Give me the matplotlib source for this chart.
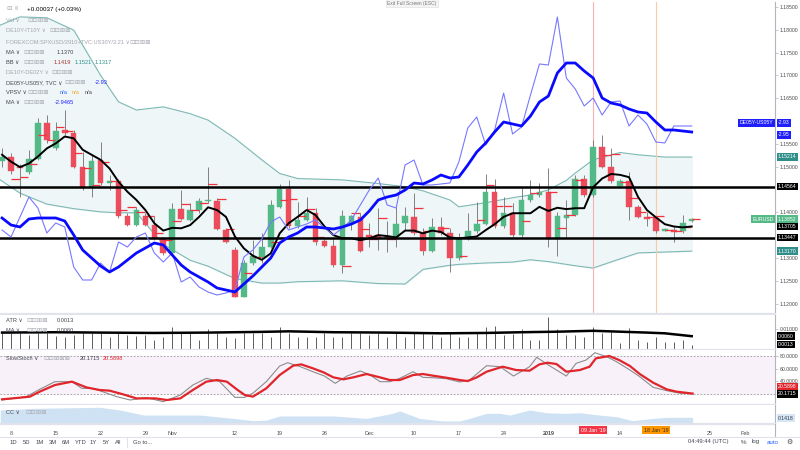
import numpy as np
import matplotlib
matplotlib.use("Agg")
import matplotlib.pyplot as plt
import matplotlib.transforms as mtransforms

# EURUSD daily bars, index 0 = 8 Oct 2018 (holidays skipped), last = 24 Jan 2019
bars = list(range(-1, 77))
opens = [1.1512, 1.1522, 1.1500, 1.1489, 1.1517, 1.1595, 1.1540, 1.1580, 1.1574, 1.1500,
         1.1455, 1.1515, 1.1464, 1.1469, 1.1391, 1.1372, 1.1391, 1.1372, 1.1341, 1.1310,
         1.1407, 1.1383, 1.1405, 1.1425, 1.1425, 1.1361, 1.1318, 1.1215, 1.1288, 1.1303,
         1.1325, 1.1412, 1.1451, 1.1369, 1.1383, 1.1398, 1.1338, 1.1326, 1.1285, 1.1374,
         1.1390, 1.1350, 1.1350, 1.1345, 1.1345, 1.1376, 1.1389, 1.1354, 1.1316, 1.1367,
         1.1354, 1.1301, 1.1343, 1.1360, 1.1374, 1.1445, 1.1369, 1.1398, 1.1350, 1.1427,
         1.1438, 1.1445, 1.1341, 1.1388, 1.1394, 1.1473, 1.1439, 1.1542, 1.1500, 1.1458,
         1.1469, 1.1411, 1.1390, 1.1387, 1.1359, 1.1361, 1.1359, 1.1380]
highs = [1.1540, 1.1529, 1.1505, 1.1537, 1.1606, 1.1613, 1.1598, 1.1624, 1.1580, 1.1533,
         1.1525, 1.1555, 1.1482, 1.1474, 1.1398, 1.1412, 1.1398, 1.1391, 1.1347, 1.1420,
         1.1449, 1.1420, 1.1431, 1.1500, 1.1431, 1.1365, 1.1325, 1.1296, 1.1339, 1.1354,
         1.1427, 1.1463, 1.1471, 1.1423, 1.1434, 1.1409, 1.1343, 1.1343, 1.1405, 1.1394,
         1.1398, 1.1376, 1.1409, 1.1380, 1.1412, 1.1412, 1.1442, 1.1365, 1.1387, 1.1390,
         1.1365, 1.1354, 1.1398, 1.1423, 1.1485, 1.1474, 1.1434, 1.1420, 1.1453, 1.1471,
         1.1464, 1.1496, 1.1401, 1.1427, 1.1482, 1.1482, 1.1558, 1.1569, 1.1540, 1.1474,
         1.1489, 1.1416, 1.1401, 1.1390, 1.1365, 1.1369, 1.1394, 1.1387]
lows = [1.1500, 1.1485, 1.1433, 1.1485, 1.1514, 1.1551, 1.1536, 1.1569, 1.1498, 1.1449,
        1.1434, 1.1460, 1.1449, 1.1387, 1.1369, 1.1369, 1.1369, 1.1339, 1.1307, 1.1307,
        1.1383, 1.1380, 1.1398, 1.1420, 1.1361, 1.1332, 1.1214, 1.1214, 1.1284, 1.1290,
        1.1321, 1.1409, 1.1365, 1.1365, 1.1380, 1.1328, 1.1325, 1.1281, 1.1266, 1.1361,
        1.1314, 1.1325, 1.1317, 1.1314, 1.1325, 1.1358, 1.1350, 1.1306, 1.1314, 1.1350,
        1.1270, 1.1296, 1.1339, 1.1354, 1.1372, 1.1365, 1.1365, 1.1347, 1.1347, 1.1423,
        1.1434, 1.1325, 1.1304, 1.1347, 1.1391, 1.1434, 1.1434, 1.1496, 1.1464, 1.1455,
        1.1383, 1.1387, 1.1369, 1.1354, 1.1358, 1.1336, 1.1355, 1.1379]
closes = [1.1522, 1.1491, 1.1496, 1.1517, 1.1595, 1.1558, 1.1579, 1.1574, 1.1500, 1.1453,
          1.1513, 1.1464, 1.1468, 1.1391, 1.1372, 1.1404, 1.1372, 1.1343, 1.1310, 1.1407,
          1.1385, 1.1405, 1.1425, 1.1427, 1.1363, 1.1336, 1.1215, 1.1288, 1.1305, 1.1325,
          1.1416, 1.1451, 1.1369, 1.1383, 1.1398, 1.1334, 1.1326, 1.1285, 1.1391, 1.1391,
          1.1316, 1.1347, 1.1343, 1.1343, 1.1374, 1.1392, 1.1354, 1.1316, 1.1367, 1.1354,
          1.1301, 1.1343, 1.1360, 1.1374, 1.1445, 1.1369, 1.1398, 1.1350, 1.1427, 1.1439,
          1.1445, 1.1341, 1.1392, 1.1394, 1.1473, 1.1439, 1.1542, 1.1500, 1.1469, 1.1469,
          1.1412, 1.1390, 1.1385, 1.1360, 1.1363, 1.1357, 1.1377, 1.1385]

# small red VPSV marks (None where none is visible)
vpsv = [None, 1.1472, 1.1478, 1.1505, 1.1569, 1.1558, 1.1587, 1.1577, 1.1529, 1.1496,
        1.1460, 1.1511, 1.1469, 1.1405, 1.1412, 1.1400, 1.1392, 1.1355, 1.1340, 1.1380,
        1.1418, 1.1405, 1.1420, 1.1462, 1.1429, 1.1363, None, 1.1268, 1.1303, None,
        1.1334, 1.1427, 1.1429, 1.1391, 1.1407, 1.1345, 1.1343, None, 1.1283, 1.1398,
        1.1363, 1.1341, 1.1387, 1.1341, None, None, 1.1409, 1.1360, None, 1.1365,
        None, 1.1304, None, 1.1383, 1.1460, 1.1414, 1.1414, None, 1.1382, 1.1443,
        None, 1.1445, 1.1365, 1.1394, 1.1471, None, None, 1.1526, 1.1528, 1.1467,
        1.1431, 1.1401, 1.1389, 1.1392, 1.1361, 1.1360, 1.1368, 1.1385]

# black MA on price
ma_price = [1.1526, 1.1511, 1.1499, 1.1507, 1.1522, 1.1540, 1.1551, 1.1566, 1.1562, 1.1537,
            1.1526, 1.1515, 1.1496, 1.1467, 1.1445, 1.1427, 1.1405, 1.1376, 1.1360, 1.1366,
            1.1365, 1.1372, 1.1390, 1.1411, 1.1405, 1.1390, 1.1347, 1.1321, 1.1305, 1.1296,
            1.1310, 1.1354, 1.1376, 1.1390, 1.1405, 1.1394, 1.1369, 1.1350, 1.1343, 1.1343,
            1.1339, 1.1343, 1.1350, 1.1348, 1.1345, 1.1360, 1.1360, 1.1354, 1.1360, 1.1357,
            1.1345, 1.1343, 1.1345, 1.1347, 1.1361, 1.1374, 1.1390, 1.1398, 1.1398, 1.1398,
            1.1412, 1.1403, 1.1410, 1.1407, 1.1409, 1.1409, 1.1455, 1.1474, 1.1484, 1.1482,
            1.1477, 1.1434, 1.1405, 1.1389, 1.1374, 1.1369, 1.1367, 1.1369]

# Bollinger bands
bb_x = [-1.2, 1, 4, 7, 10, 12, 14, 17, 20, 22, 25, 28, 30, 32, 37, 41, 44, 46, 49, 50,
        53, 56, 58, 60, 62, 63, 65, 68, 70, 73, 76]
bb_upper = [1.1810, 1.1828, 1.1826, 1.1799, 1.1700, 1.1642, 1.1624, 1.1631, 1.1616, 1.1602,
            1.1562, 1.1515, 1.1485, 1.1474, 1.1471, 1.1463, 1.1456, 1.1447, 1.1427, 1.1412,
            1.1421, 1.1432, 1.1438, 1.1449, 1.1470, 1.1486, 1.1515, 1.1531, 1.1526, 1.1521,
            1.1521]
bb_lower = [1.1471, 1.1442, 1.1418, 1.1408, 1.1401, 1.1399, 1.1399, 1.1330, 1.1295, 1.1282,
            1.1255, 1.1245, 1.1245, 1.1248, 1.1250, 1.1244, 1.1243, 1.1275, 1.1284, 1.1286,
            1.1289, 1.1291, 1.1296, 1.1292, 1.1286, 1.1283, 1.1278, 1.1298, 1.1311, 1.1313,
            1.1315]

# DE05Y-US05Y spread (thin) and its MA (thick)
spread = [-3.142, -3.156, -3.116, -3.076, -3.098, -3.148, -3.128, -3.136, -3.216, -3.242,
          -3.242, -3.208, -3.226, -3.166, -3.176, -3.156, -3.148, -3.188, -3.206, -3.188,
          -3.246, -3.236, -3.256, -3.266, -3.272, -3.268, -3.262, -3.196, -3.182, -3.160,
          -3.126, -3.116, -3.142, -3.136, -3.130, -3.122, -3.138, -3.152, -3.138, -3.122,
          -3.092, -3.062, -3.038, -3.092, -3.098, -3.012, -3.002, -3.052, -3.052, -3.050,
          -3.048, -3.006, -2.938, -2.916, -2.972, -2.942, -2.868, -2.950, -2.936, -2.872,
          -2.810, -2.812, -2.716, -2.838, -2.860, -2.894, -2.878, -2.912, -2.886, -2.884,
          -2.934, -2.912, -2.930, -2.966, -2.968, -2.934, -2.934, -2.934]
spread_ma = [-3.118, -3.132, -3.136, -3.120, -3.118, -3.118, -3.118, -3.124, -3.152, -3.182,
             -3.198, -3.214, -3.226, -3.216, -3.202, -3.188, -3.178, -3.168, -3.172, -3.192,
             -3.212, -3.226, -3.236, -3.246, -3.258, -3.262, -3.266, -3.250, -3.234, -3.216,
             -3.198, -3.168, -3.156, -3.148, -3.136, -3.136, -3.138, -3.140, -3.136, -3.130,
             -3.122, -3.104, -3.082, -3.076, -3.072, -3.062, -3.048, -3.050, -3.042, -3.032,
             -3.038, -3.036, -3.012, -2.986, -2.968, -2.946, -2.926, -2.930, -2.934, -2.914,
             -2.886, -2.874, -2.828, -2.808, -2.808, -2.824, -2.838, -2.878, -2.888, -2.892,
             -2.900, -2.906, -2.908, -2.926, -2.942, -2.942, -2.944, -2.946]

# ATR panel
atr = [0.0076, 0.0076, 0.0076, 0.0067, 0.0076, 0.0076, 0.0061, 0.0054, 0.0067, 0.0076,
       0.0076, 0.0080, 0.0054, 0.0076, 0.0067, 0.0061, 0.0067, 0.0039, 0.0054, 0.0113,
       0.0076, 0.0076, 0.0039, 0.0100, 0.0076, 0.0054, 0.0048, 0.0076, 0.0080, 0.0076,
       0.0054, 0.0113, 0.0076, 0.0054, 0.0054, 0.0057, 0.0080, 0.0054, 0.0054, 0.0076,
       0.0076, 0.0067, 0.0076, 0.0057, 0.0076, 0.0057, 0.0085, 0.0085, 0.0067, 0.0057,
       0.0085, 0.0054, 0.0057, 0.0076, 0.0113, 0.0117, 0.0067, 0.0072, 0.0098, 0.0039,
       0.0039, 0.0169, 0.0098, 0.0067, 0.0067, 0.0054, 0.0113, 0.0076, 0.0082, 0.0024,
       0.0103, 0.0039, 0.0030, 0.0054, 0.0030, 0.0030, 0.0039, 0.0013]
atr_ma_x = [-1, 5, 10, 16, 22, 28, 31, 36, 42, 48, 53, 57, 61, 65, 68, 71, 73, 76]
atr_ma = [0.0080, 0.0082, 0.0080, 0.0078, 0.0080, 0.0084, 0.0087, 0.0082, 0.0080, 0.0076,
          0.0078, 0.0082, 0.0085, 0.0090, 0.0085, 0.0080, 0.0076, 0.0060]

# Slow stochastic
stoch_d_x = [-1.0, 1.0, 2.1, 3.2, 4.9, 6.8, 8.4, 9.9, 11.0, 12.5, 14.0, 16.1, 17.4, 18.9,
             20.3, 21.8, 23.0, 24.1, 25.2, 26.1, 27.0, 28.5, 30.0, 31.5, 32.4, 33.7, 34.9,
             36.0, 37.1, 38.2, 39.7, 41.2, 42.3, 43.4, 44.9, 46.0, 47.1, 48.6, 50.1, 51.0,
             52.0, 53.1, 54.9, 56.4, 57.9, 59.0, 59.9, 60.9, 62.0, 63.5, 64.6, 65.3, 66.8,
             67.9, 69.1, 70.2, 71.7, 73.2, 74.3, 76.1]
stoch_d = [11.5, 14.1, 15.7, 23.6, 34.1, 39.4, 30.4, 26.2, 25.2, 19.4, 13.0, 13.0, 10.4, 13.0,
           26.2, 39.4, 42.0, 39.4, 27.3, 18.3, 15.7, 28.8, 49.9, 64.7, 66.8, 60.5, 54.1,
           46.2, 43.1, 46.2, 51.5, 46.2, 42.0, 42.0, 49.9, 51.5, 48.9, 45.7, 42.0, 40.4,
           46.2, 55.2, 63.1, 57.8, 56.8, 66.8, 69.4, 67.3, 55.2, 57.8, 63.1, 76.3, 80.0,
           73.6, 64.2, 51.5, 37.8, 27.3, 23.6, 20.6]
stoch_k_x = [-1.0, 1.7, 3.2, 4.9, 6.8, 7.9, 9.0, 9.9, 11.8, 13.3, 15.1, 17.0, 18.9, 20.3,
             21.8, 23.3, 25.0, 26.1, 27.0, 28.5, 30.0, 30.9, 32.3, 33.7, 35.0, 36.2, 37.5,
             39.0, 40.1, 41.2, 42.3, 43.4, 44.9, 46.0, 47.1, 48.6, 50.1, 51.2, 53.1, 54.6,
             56.1, 57.9, 58.7, 60.0, 62.0, 63.1, 64.2, 65.2, 66.5, 67.6, 69.1, 70.2, 71.7,
             73.2, 74.7, 76.1]
stoch_k = [10.4, 15.7, 27.3, 39.4, 39.4, 28.8, 28.8, 25.2, 15.7, 10.4, 14.1, 7.8, 18.3, 34.1,
           44.7, 39.4, 14.6, 14.6, 21.1, 39.4, 64.2, 69.4, 63.1, 55.2, 48.3, 36.8, 48.3,
           56.3, 49.9, 39.4, 39.4, 44.7, 55.2, 46.2, 45.7, 44.1, 38.9, 42.0, 64.7, 63.1,
           48.3, 63.1, 77.9, 65.7, 48.3, 68.4, 73.6, 85.2, 78.9, 71.0, 57.8, 47.3, 30.4,
           25.2, 21.1, 20.2]

# CC panel
cc_x = [-1.2, 2.5, 9.9, 12.2, 14.8, 21.1, 24.8, 27.0, 28.5, 30.0, 36.0, 39.7, 42.6, 43.4,
        45.6, 48.2, 50.1, 51.2, 53.1, 54.6, 55.7, 57.9, 59.8, 62.0, 63.5, 65.7, 67.6, 69.4,
        71.7, 73.2, 76.1]
cc = [0.67, 0.78, 0.85, 0.67, 0.34, 0.34, 0.12, -0.03, 0.0, 0.28, 0.28, 0.12, 0.45, 0.61,
      0.12, -0.05, -0.05, 0.12, 0.45, 0.45, 0.34, 0.67, 0.49, 0.45, 0.49, 0.34, 0.23, -0.03,
      0.12, 0.19, 0.19]

support = 1.13447
resistance = 1.14564
marker_jan09 = 65
marker_jan18 = 72

tick_pos = [0, 5, 10, 15, 18, 25, 30, 35, 40, 45, 50, 55, 60, 68, 78, 82]
tick_lab = ["8", "15", "22", "29", "Nov", "12", "19", "26", "Dec", "10", "17", "24",
            "2019", "14", "25", "Feb"]
price_ticks = [1.12, 1.125, 1.13, 1.14, 1.15, 1.155, 1.165, 1.17, 1.175, 1.18, 1.185]

plt.rcParams["font.family"] = ["Liberation Sans", "DejaVu Sans"]

GREEN = "#53b987"
RED = "#eb4d5c"
TEAL = "#7fb9b5"
GRID = "#e0e3eb"
AXC = "#b2b5be"
TXT = "#434651"
W, H = 800, 450
XLIM = (-1.23, 85.3)
FS = 4.1


def rect(x0, y0, x1, y1):
    return [x0 / W, 1 - y1 / H, (x1 - x0) / W, (y1 - y0) / H]


def style(a):
    for s in ("top", "left"):
        a.spines[s].set_visible(False)
    a.spines["right"].set_color(AXC)
    a.spines["right"].set_linewidth(0.8)
    a.spines["bottom"].set_color(GRID)
    a.spines["bottom"].set_linewidth(1.6)
    a.yaxis.tick_right()
    a.tick_params(axis="y", length=2, width=0.5, color=AXC, labelsize=3.7,
                  labelcolor="#4a4a4a", pad=1.5)
    a.tick_params(axis="x", bottom=False, labelbottom=False)
    a.set_xlim(*XLIM)


def tag(a, y, text, fc, tc="white", left=False):
    tr = mtransforms.blended_transform_factory(a.transAxes, a.transData)
    a.text(0.998 if left else 1.004, y, text, transform=tr, fontsize=3.7, color=tc,
           ha="right" if left else "left", va="center", clip_on=False, zorder=20,
           bbox=dict(boxstyle="square,pad=0.25", fc=fc, ec="none"))


def ftext(x, y, s, **kw):
    kw.setdefault("fontsize", FS)
    kw.setdefault("color", TXT)
    fig.text(x / W, 1 - y / H, s, va="center", ha=kw.pop("ha", "left"), **kw)


fig = plt.figure(figsize=(8, 4.5), dpi=100)
fig.patch.set_facecolor("white")

# ---- main price panel ----
ax = fig.add_axes(rect(0, 2, 775, 314))
style(ax)
ax.set_ylim(1.11773, 1.18606)
ax.set_yticks(price_ticks)
ax.set_yticklabels([f"{t:.5f}" for t in price_ticks])

ax.fill_between(bb_x, bb_lower, bb_upper, color="#eef6f7", zorder=0)
ax.plot(bb_x, bb_upper, color=TEAL, lw=0.8, zorder=1)
ax.plot(bb_x, bb_lower, color=TEAL, lw=0.8, zorder=1)
ax.axvline(marker_jan09, color="#f7b3b3", lw=0.8, zorder=1)
ax.axvline(marker_jan18, color="#f9caa5", lw=0.8, zorder=1)

o, c = np.array(opens), np.array(closes)
cols = np.where(c >= o, GREEN, RED)
ax.vlines(bars, lows, highs, color="#6f6f6f", lw=0.6, zorder=3)
ax.bar(bars, np.maximum(np.abs(c - o), 0.00008), bottom=np.minimum(o, c), width=0.62,
       color=cols, edgecolor=cols, lw=0.3, zorder=4)
vx = [b for b, v in zip(bars, vpsv) if v is not None]
vy = [v for v in vpsv if v is not None]
ax.hlines(vy, vx, np.array(vx) + 0.95, color="#f0333f", lw=0.9, zorder=5)
ax.plot(bars, ma_price, color="black", lw=1.4, zorder=5)
ax.axhline(resistance, color="black", lw=1.8, zorder=6)
ax.axhline(support, color="black", lw=1.8, zorder=6)

# spread overlay on its own hidden scale
ax2 = fig.add_axes(rect(0, 2, 775, 314), sharex=ax)
ax2.patch.set_visible(False)
ax2.axis("off")
ax2.set_ylim(-3.31, -2.686)
ax2.plot(bars, spread, color="#7878ff", lw=0.8, zorder=5)
ax2.plot(bars, spread_ma, color="#0a0aff", lw=2.0, zorder=6)
ax2.set_xlim(*XLIM)

tag(ax, bb_upper[-1] + 0.00004, "1.15214", "#2e8f8a")
tag(ax, resistance, "1.14564", "black")
tag(ax, closes[-1], "1.13852", GREEN)
tag(ax, closes[-1], "EURUSD", GREEN, left=True)
tag(ax, ma_price[-1], "1.13705", "black")
tag(ax, support, "1.13447", "black")
tag(ax, bb_lower[-1] + 0.00002, "1.13170", "#2e8f8a")
tag(ax2, -2.928, "-2.93", "#1e1eff")
tag(ax2, -2.928, "DE05Y-US05Y", "#1e1eff", left=True)
tag(ax2, -2.952, "-2.95", "#1e1eff")

# ---- ATR panel ----
ax_atr = fig.add_axes(rect(0, 315, 775, 350), sharex=ax)
style(ax_atr)
ax_atr.set_ylim(-0.0017, 0.0178)
ax_atr.vlines(bars, -0.0017, atr, color="#5d5d5d", lw=0.7)
ax_atr.plot(atr_ma_x, atr_ma, color="black", lw=1.8)
ax_atr.set_yticks([0.01])
ax_atr.set_yticklabels(["0.01000"])
tag(ax_atr, 0.0060, "0.0060", "black")
tag(ax_atr, 0.0013, "0.0013", "black")

# ---- stochastic panel ----
ax_st = fig.add_axes(rect(0, 350, 775, 405), sharex=ax)
style(ax_st)
ax_st.set_ylim(2.5, 89.5)
ax_st.axhspan(20, 80, color="#f8f1f9", zorder=0)
ax_st.axhline(80, color="#9a9a9a", lw=0.6, ls=(0, (2, 2)))
ax_st.axhline(20, color="#9a9a9a", lw=0.6, ls=(0, (2, 2)))
ax_st.plot(stoch_k_x, stoch_k, color="#8c8c8c", lw=0.8)
ax_st.plot(stoch_d_x, stoch_d, color="#e0252b", lw=1.6)
ax_st.set_yticks([40, 60, 80])
ax_st.set_yticklabels(["40.0000", "60.0000", "80.0000"])
tag(ax_st, 32.0, "20.5898", "#e0252b")
tag(ax_st, 20.17, "20.1715", "black")

# ---- CC panel ----
ax_cc = fig.add_axes(rect(0, 405, 775, 424), sharex=ax)
style(ax_cc)
ax_cc.set_ylim(-0.25, 1.0)
ax_cc.fill_between(cc_x, cc, -0.25, color="#cfe2f3", lw=0)
ax_cc.set_yticks([])
tag(ax_cc, 0.1418, "0.1418", "#d6e6f5", tc="#2a3a4a")
ax_cc.tick_params(axis="x", bottom=False, labelbottom=True, labelsize=3.9,
                  labelcolor="#4a4a4a", pad=1.6)
ax_cc.set_xticks(tick_pos)
ax_cc.set_xticklabels(tick_lab)
for lab in ax_cc.get_xticklabels():
    if lab.get_text() == "2019":
        lab.set_fontweight("bold")
trx = mtransforms.blended_transform_factory(ax_cc.transData, fig.transFigure)
ax_cc.text(marker_jan09, 1 - 430 / H, "09 Jan '19", transform=trx, fontsize=3.8,
           color="white", ha="center", va="center",
           bbox=dict(boxstyle="square,pad=0.35", fc="#f23645", ec="none"))
ax_cc.text(marker_jan18, 1 - 430 / H, "18 Jan '19", transform=trx, fontsize=3.8,
           color="#3a2a10", ha="center", va="center",
           bbox=dict(boxstyle="square,pad=0.35", fc="#ff9800", ec="none"))

# right axis line continues through the date row
fig.add_artist(plt.Line2D([775 / W, 775 / W], [1 - 436 / H, 1 - 424 / H], color=AXC, lw=0.8))
fig.add_artist(plt.Line2D([0, 1], [1 - 437 / H, 1 - 437 / H], color=GRID, lw=0.8))

# ---- legends (top-left of each pane) ----
ICONS = "⊡⊡⊞⊠"
IC = "#a9acb5"
GR = "#a3a6af"
IFS = 4.6
ftext(6, 9, "⊟", color=IC, fontsize=IFS)
ftext(14, 9, "Ⅱ", color=IC, fontsize=IFS)
ftext(27, 9, "+0.00037 (+0.03%)", color="black", fontsize=4.5)
ftext(6, 20, "Vol ∨", color=GR)
ftext(27, 20, ICONS, color=IC, fontsize=IFS)
ftext(6, 31, "DE10Y-IT10Y ∨", color=GR)
ftext(49, 31, ICONS, color=IC, fontsize=IFS)
ftext(6, 42, "FOREXCOM:SPXUSD/2910+TVC:US30Y/3.21 ∨", color=GR)
ftext(129, 42, ICONS, color=IC, fontsize=IFS)
ftext(6, 52, "MA ∨", color=TXT)
ftext(23, 52, ICONS, color=IC, fontsize=IFS)
ftext(57, 52, "1.1370", color=TXT)
ftext(6, 62, "BB ∨", color=TXT)
ftext(23, 62, ICONS, color=IC, fontsize=IFS)
ftext(54, 62, "1.1419", color="#a83232")
ftext(75, 62, "1.1521", color="#2e8f8a")
ftext(95, 62, "1.1317", color="#2e8f8a")
ftext(6, 72, "DE10Y-DE02Y ∨", color=GR)
ftext(51, 72, ICONS, color=IC, fontsize=IFS)
ftext(6, 83, "DE05Y-US05Y, TVC ∨", color=TXT)
ftext(64, 83, ICONS, color=IC, fontsize=IFS)
ftext(95, 83, "-2.93", color="#1e1eff")
ftext(6, 93, "VPSV ∨", color=TXT)
ftext(27, 93, ICONS, color=IC, fontsize=IFS)
ftext(60, 93, "n/a", color="#2962ff")
ftext(72, 93, "n/a", color="#f5a623")
ftext(85, 93, "n/a", color=TXT)
ftext(6, 103, "MA ∨", color=TXT)
ftext(23, 103, ICONS, color=IC, fontsize=IFS)
ftext(55, 103, "-2.9465", color="#1e1eff")

ftext(6, 321, "ATR ∨", color=TXT)
ftext(26, 321, ICONS, color=IC, fontsize=IFS)
ftext(57, 321, "0.0013", color=TXT)
ftext(6, 331, "MA ∨", color=TXT)
ftext(26, 331, ICONS, color=IC, fontsize=IFS)
ftext(57, 331, "0.0060", color=TXT)
ftext(6, 358, "SlowStoch ∨", color=TXT)
ftext(43, 358, ICONS + "⊠", color=IC, fontsize=IFS)
ftext(80, 358, "20.1715", color=TXT)
ftext(103, 358, "20.5898", color="#e0252b")
ftext(6, 413, "CC ∨", color=TXT)
ftext(25, 413, ICONS, color=IC, fontsize=IFS)

ftext(412, 3, "Exit Full Screen (ESC)", color="#777", fontsize=3.5, ha="center",
      bbox=dict(boxstyle="square,pad=0.3", fc="#f4f4f4", ec="#dddddd", lw=0.4))

# ---- bottom toolbar ----
for x, s in [(10, "1D"), (23, "5D"), (36, "1M"), (49, "3M"), (62, "6M"), (75, "YTD"),
             (90, "1Y"), (103, "5Y"), (115, "All"), (133, "Go to...")]:
    ftext(x, 442, s, color=TXT, fontsize=4.2)
fig.add_artist(plt.Line2D([127 / W, 127 / W], [1 - 447 / H, 1 - 437 / H], color=GRID, lw=0.8))
ftext(688, 442, "04:49:44 (UTC)", color=TXT, fontsize=4.2)
ftext(741, 442, "%", color=TXT, fontsize=4.4)
ftext(752, 442, "log", color=TXT, fontsize=4.4)
ftext(767, 442, "auto", color="#2962ff", fontsize=4.4)
ftext(786, 442, "⚙", color=TXT, fontsize=5.0)

fig.savefig("out.png", dpi=100)
